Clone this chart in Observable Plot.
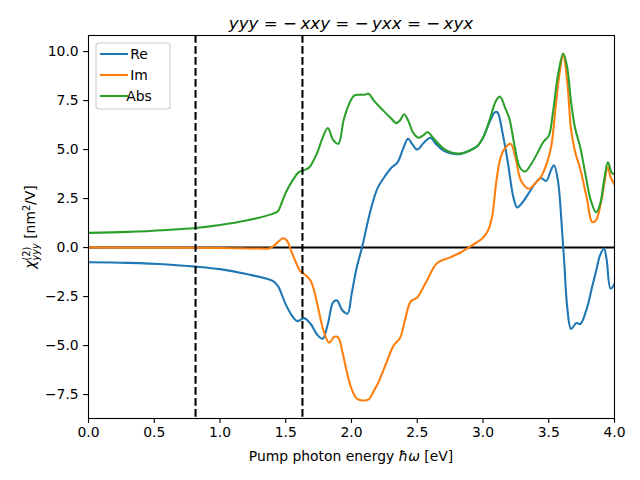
<!DOCTYPE html>
<html>
<head>
<meta charset="utf-8">
<script src="https://cdn.jsdelivr.net/npm/d3@7"></script>
<script src="https://cdn.jsdelivr.net/npm/@observablehq/plot@0.6"></script>
<style>
  html, body { margin: 0; padding: 0; background: white; }
  svg { display: block; }
</style>
</head>
<body>
<div id="chart"></div>
<script>
// ---- data ----
const seriesNames = ["Re", "Im", "Abs"];
const seriesColors = ["#1f77b4", "#ff7f0e", "#2ca02c"];

const reX = [0, 0.3, 0.6, 0.814, 1.0, 1.2, 1.4, 1.44, 1.47, 1.5, 1.55, 1.59, 1.64, 1.69, 1.74, 1.78, 1.82, 1.86, 1.89, 1.93, 1.97, 2.0, 2.04, 2.08, 2.13, 2.17, 2.20, 2.25, 2.30, 2.35, 2.39, 2.43, 2.46, 2.50, 2.55, 2.60, 2.64, 2.70, 2.76, 2.83, 2.90, 2.96, 3.0, 3.05, 3.09, 3.11, 3.15, 3.19, 3.23, 3.26, 3.30, 3.35, 3.40, 3.44, 3.48, 3.52, 3.54, 3.57, 3.60, 3.62, 3.64, 3.67, 3.71, 3.74, 3.79, 3.83, 3.86, 3.89, 3.92, 3.94, 3.97, 4.0];
const reY = [-0.75, -0.78, -0.86, -0.97, -1.1, -1.35, -1.7, -1.95, -2.4, -2.9, -3.5, -3.75, -3.6, -3.9, -4.45, -4.65, -3.9, -2.8, -2.7, -3.2, -3.37, -2.4, -1.0, 0, 1.5, 2.5, 3.06, 3.6, 4.05, 4.35, 5.0, 5.55, 5.3, 5.0, 5.35, 5.6, 5.3, 4.95, 4.8, 4.78, 4.95, 5.2, 5.6, 6.4, 6.9, 6.9, 5.8, 4.3, 2.6, 2.05, 2.3, 2.8, 3.3, 3.55, 3.4, 4.0, 4.2, 3.4, 1.0, -1.0, -3.0, -4.15, -3.85, -3.9, -3.1, -2.0, -1.2, -0.4, -0.05, -0.6, -2.1, -1.85];

const imX = [0, 0.5, 1.0, 1.3, 1.38, 1.42, 1.46, 1.48, 1.51, 1.54, 1.58, 1.61, 1.65, 1.69, 1.72, 1.75, 1.79, 1.83, 1.87, 1.90, 1.93, 1.97, 2.0, 2.04, 2.08, 2.13, 2.17, 2.20, 2.27, 2.32, 2.37, 2.41, 2.45, 2.50, 2.54, 2.58, 2.65, 2.75, 2.83, 2.89, 2.95, 3.0, 3.04, 3.07, 3.10, 3.13, 3.16, 3.21, 3.25, 3.29, 3.35, 3.40, 3.44, 3.49, 3.52, 3.55, 3.58, 3.61, 3.64, 3.67, 3.70, 3.74, 3.79, 3.83, 3.86, 3.90, 3.95, 3.97, 4.0];
const imY = [0, -0.01, -0.02, -0.05, -0.03, 0.15, 0.4, 0.48, 0.35, -0.15, -0.8, -1.2, -1.4, -1.7, -2.3, -3.2, -4.3, -4.85, -4.55, -4.6, -5.3, -6.5, -7.2, -7.7, -7.8, -7.75, -7.3, -6.95, -5.8, -5.0, -4.6, -3.6, -2.75, -2.55, -2.1, -1.6, -0.8, -0.5, -0.25, 0.0, 0.25, 0.5, 0.9, 1.6, 3.3, 4.5, 5.0, 5.3, 4.5, 3.4, 3.0, 3.3, 3.6, 4.4, 5.2, 7.0, 8.8, 9.8, 8.5, 6.0, 4.9, 4.0, 2.5, 1.3, 1.4, 2.4, 4.1, 3.6, 3.2];

const absX = [0, 0.3, 0.6, 0.814, 1.0, 1.2, 1.4, 1.44, 1.47, 1.5, 1.55, 1.6, 1.64, 1.68, 1.74, 1.78, 1.82, 1.86, 1.90, 1.94, 1.98, 2.02, 2.06, 2.10, 2.13, 2.17, 2.24, 2.30, 2.34, 2.37, 2.40, 2.43, 2.47, 2.51, 2.55, 2.58, 2.62, 2.70, 2.76, 2.83, 2.90, 2.96, 3.0, 3.05, 3.1, 3.13, 3.17, 3.20, 3.24, 3.28, 3.32, 3.37, 3.42, 3.46, 3.50, 3.53, 3.57, 3.61, 3.64, 3.67, 3.70, 3.74, 3.78, 3.82, 3.86, 3.89, 3.92, 3.95, 3.98, 4.0];
const absY = [0.75, 0.8, 0.9, 1.0, 1.15, 1.38, 1.72, 1.85, 2.3, 2.8, 3.4, 3.85, 3.95, 4.1, 4.85, 5.6, 6.1, 5.5, 5.3, 6.5, 7.3, 7.75, 7.8, 7.8, 7.85, 7.5, 7.0, 6.6, 6.35, 6.5, 6.8, 6.5, 5.85, 5.6, 5.75, 5.9, 5.6, 5.05, 4.85, 4.8, 4.95, 5.2, 5.6, 6.5, 7.5, 7.7, 7.1, 6.6, 5.2, 4.1, 3.88, 4.3, 4.9, 5.4, 5.7, 6.8, 8.8, 9.9, 9.2, 7.4, 6.1, 5.1, 3.7, 2.4, 1.8, 2.2, 3.4, 4.35, 3.8, 3.75];

const gapEnergies = [0.814, 1.627];
const xTicks = [0, 0.5, 1.0, 1.5, 2.0, 2.5, 3.0, 3.5, 4.0];
const yTicks = [-7.5, -5.0, -2.5, 0.0, 2.5, 5.0, 7.5, 10.0];

// ---- build tables ----
const toRows = (xs, ys) => xs.map((x, i) => ({x, y: ys[i]}));
const reRows = toRows(reX, reY);
const imRows = toRows(imX, imY);
const absRows = toRows(absX, absY);

const FONT = "DejaVu Sans";
const fmt = d3.format(".1f");

const plot = Plot.plot({
  width: 640,
  height: 480,
  marginLeft: 88,
  marginRight: 26,
  marginTop: 35,
  marginBottom: 62,
  style: {fontFamily: FONT, fontSize: "13.9px", background: "white", color: "black"},
  x: {domain: [0, 4]},
  y: {domain: [-8.72, 10.82]},
  marks: [
    Plot.ruleY([0], {stroke: "black", strokeWidth: 2.08}),
    Plot.line(reRows, {x: "x", y: "y", stroke: seriesColors[0], strokeWidth: 2.08, curve: "catmull-rom", clip: true}),
    Plot.line(imRows, {x: "x", y: "y", stroke: seriesColors[1], strokeWidth: 2.08, curve: "catmull-rom", clip: true}),
    Plot.line(absRows, {x: "x", y: "y", stroke: seriesColors[2], strokeWidth: 2.08, curve: "catmull-rom", clip: true}),
    Plot.ruleX(gapEnergies, {stroke: "black", strokeWidth: 2.08, strokeDasharray: "7.7,3.3"}),
    Plot.frame({stroke: "black", strokeWidth: 1.1}),
    Plot.axisX({ticks: xTicks, tickFormat: fmt, tickSize: 4.9, tickPadding: 4.2, strokeWidth: 1.1, fontSize: 13.9, label: null}),
    Plot.axisY({ticks: yTicks, tickFormat: fmt, tickSize: 4.9, tickPadding: 4.9, strokeWidth: 1.1, fontSize: 13.9, label: null})
  ]
});

document.getElementById("chart").appendChild(plot);

const svg = d3.select(plot);

// Title (mathtext-like)
const title = svg.append("text")
  .attr("x", 351).attr("y", 29)
  .attr("text-anchor", "middle")
  .attr("font-family", FONT).attr("font-size", 16.7).attr("fill", "black");
const titleParts = [["yyy", true], [" = −\u2009", false], ["xxy", true], [" = −\u2009", false], ["yxx", true], [" = −\u2009", false], ["xyx", true]];
titleParts.forEach(([t, it]) => title.append("tspan").attr("font-style", it ? "italic" : "normal").style("white-space", "pre").text(t));

// X label
const xl = svg.append("text")
  .attr("x", 351).attr("y", 461)
  .attr("text-anchor", "middle")
  .attr("font-family", FONT).attr("font-size", 13.9).attr("fill", "black");
xl.append("tspan").text("Pump photon energy ");
xl.append("tspan").attr("font-style", "italic").text("ħω");
xl.append("tspan").text(" [eV]");

// Y label
const yl = svg.append("text")
  .attr("transform", "translate(35,227) rotate(-90)")
  .attr("text-anchor", "middle")
  .attr("font-family", FONT).attr("font-size", 13.9).attr("fill", "black");
yl.append("tspan").attr("font-style", "italic").text("χ");
yl.append("tspan").attr("font-size", 9.7).attr("dy", -5.5).text("(2)");
yl.append("tspan").attr("font-size", 9.7).attr("font-style", "italic").attr("dx", -13.7).attr("dy", 9.5).text("yyy");
yl.append("tspan").attr("dy", -4).text(" [nm");
yl.append("tspan").attr("font-size", 9.7).attr("dy", -5.5).text("2");
yl.append("tspan").attr("dy", 5.5).text("/V]");

// Legend
const lg = svg.append("g");
lg.append("rect")
  .attr("x", 96).attr("y", 43).attr("width", 74).attr("height", 66).attr("rx", 3)
  .attr("fill", "white").attr("fill-opacity", 0.8)
  .attr("stroke", "#cccccc").attr("stroke-width", 1.1);
seriesNames.forEach((name, i) => {
  const cy = 54 + i * 21;
  lg.append("line").attr("x1", 100).attr("x2", 128).attr("y1", cy).attr("y2", cy)
    .attr("stroke", seriesColors[i]).attr("stroke-width", 2.08);
  lg.append("text").attr("x", 139).attr("y", cy).attr("dy", "0.35em")
    .attr("font-family", FONT).attr("font-size", 13.9).attr("fill", "black").text(name);
});
</script>
</body>
</html>
